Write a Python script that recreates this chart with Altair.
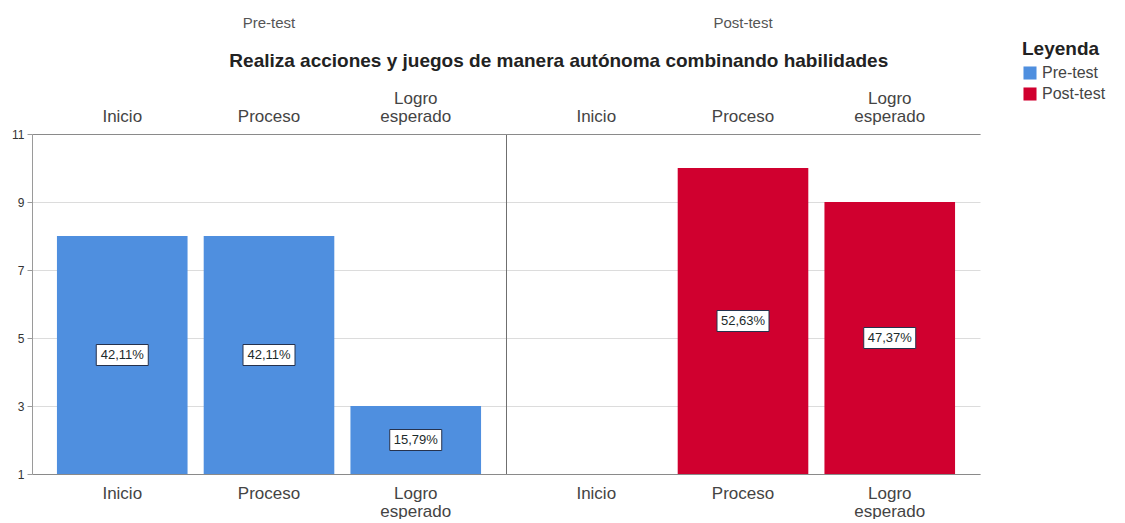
import altair as alt
import pandas as pd

# ---- data ----
groups = ["Pre-test", "Post-test"]
levels = ["Inicio", "Proceso", "Logro esperado"]
counts_pre = [8, 8, 3]
counts_post = [0, 10, 9]
pct_pre = ["42,11%", "42,11%", "15,79%"]
pct_post = ["", "52,63%", "47,37%"]
title_text = "Realiza acciones y juegos de manera autónoma combinando habilidades"
legend_title = "Leyenda"
colors = ["#4f8fdf", "#d0002f"]

rows = []
for lv, c, p in zip(levels, counts_pre, pct_pre):
    rows.append({"grupo": "Pre-test", "nivel": lv, "n": c, "pct": p})
for lv, c, p in zip(levels, counts_post, pct_post):
    rows.append({"grupo": "Post-test", "nivel": lv, "n": c, "pct": p})
df = pd.DataFrame(rows)

FONT = "Liberation Sans"
LABEL_EXPR = "datum.label == 'Logro esperado' ? ['Logro', 'esperado'] : datum.label"
PANEL_W = 474
PANEL_H = 340


def panel(group, first):
    d = df[df["grupo"] == group]
    base = alt.Chart(d)
    xs = alt.Scale(domain=levels, paddingInner=0.11, paddingOuter=0.17)
    ys = alt.Scale(domain=[1, 11], nice=False, zero=False)
    if first:
        yaxis = alt.Axis(values=[1, 3, 5, 7, 9, 11], title=None, grid=True,
                         gridColor="#dcdcdc", domainColor="#9a9a9a",
                         tickColor="#9a9a9a", tickSize=5, labelFont=FONT,
                         labelFontSize=12, labelColor="#333", labelPadding=3)
    else:
        yaxis = alt.Axis(values=[1, 3, 5, 7, 9, 11], title=None, grid=True,
                         gridColor="#dcdcdc", domainColor="#6f6f6f",
                         ticks=False, labels=False)
    bars = base.mark_bar(clip=True).encode(
        x=alt.X("nivel:N", scale=xs, sort=levels,
                axis=alt.Axis(orient="bottom", title=None, labelAngle=0,
                              labelExpr=LABEL_EXPR, ticks=False,
                              domainColor="#8a8a8a", labelFont=FONT,
                              labelFontSize=17, labelColor="#444",
                              labelPadding=11, labelLineHeight=18)),
        y=alt.Y("n:Q", scale=ys, axis=yaxis),
        y2=alt.datum(1),
        color=alt.Color("grupo:N",
                        scale=alt.Scale(domain=groups, range=colors),
                        legend=alt.Legend(title=legend_title, orient="none",
                                          legendX=990, legendY=-94,
                                          titleFont=FONT, titleFontSize=19,
                                          titleFontWeight="bold",
                                          titleColor="#222",
                                          titlePadding=6,
                                          labelFont=FONT, labelFontSize=16,
                                          labelColor="#444",
                                          symbolType="square",
                                          symbolSize=170,
                                          symbolStrokeWidth=0,
                                          rowPadding=5)),
    )
    lab = base.transform_filter("datum.n > 0").transform_calculate(
        mid="(datum.n + 1) / 2")
    boxes = lab.mark_bar(width=52, yOffset=-10.5, y2Offset=10.5,
                         fill="white", stroke="#26324d",
                         strokeWidth=1).encode(
        x=alt.X("nivel:N", scale=xs, sort=levels,
                axis=alt.Axis(orient="top", title=None, labelAngle=0,
                              labelExpr=LABEL_EXPR, ticks=False,
                              domainColor="#8a8a8a", labelFont=FONT,
                              labelFontSize=17, labelColor="#444",
                              labelPadding={"condition": {
                                  "test": "datum.value == 'Logro esperado'",
                                  "value": 27}, "value": 9},
                              labelLineHeight=18)),
        y=alt.Y("mid:Q", scale=ys, axis=None),
        y2="mid:Q",
    )
    texts = lab.mark_text(font=FONT, fontSize=13, color="#1d2b2b").encode(
        x=alt.X("nivel:N", scale=xs, sort=levels, axis=None),
        y=alt.Y("mid:Q", scale=ys, axis=None),
        text="pct:N",
    )
    return alt.layer(bars, boxes, texts).resolve_axis(
        x="independent", y="independent").properties(
        width=PANEL_W, height=PANEL_H,
        title=alt.TitleParams(group, font=FONT, fontSize=15,
                              fontWeight="normal", color="#555",
                              offset=58, anchor="middle"),
    )


chart = alt.hconcat(
    panel("Pre-test", True), panel("Post-test", False), spacing=0,
    title=alt.TitleParams(title_text, font=FONT, fontSize=19,
                          fontWeight="bold", color="#222", offset=-55,
                          anchor="middle"),
    padding={"left": 3, "top": 8, "right": 0, "bottom": 0},
    background="white",
).configure_view(stroke=None)

chart.save("out.html", embed_options={"renderer": "svg", "actions": False})
